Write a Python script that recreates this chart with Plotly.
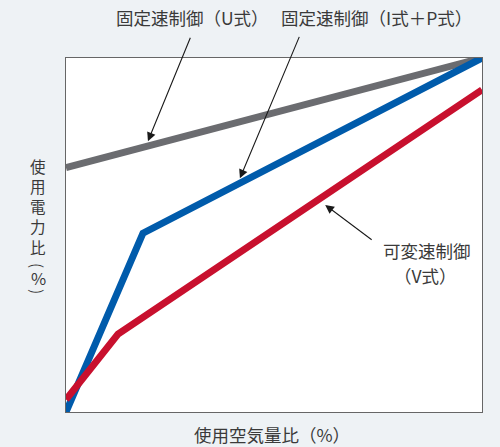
import plotly.graph_objects as go

# Data (x: 使用空気量比 %, y: 使用電力比 %)
u_x = [0, 100]
u_y = [69, 100]
ip_x = [0, 18.5, 100]
ip_y = [0, 50.5, 100]
v_x = [0, 12.5, 100]
v_y = [3.5, 22, 91]

series_names = ["固定速制御（U式）", "固定速制御（I式＋P式）", "可変速制御（V式）"]
colors = ["#6b6c70", "#005bab", "#c8102e"]

FONT = "Noto Sans CJK JP"
TXT = "#3a3a3a"

# plot area in pixels
L, R, T, B = 66, 482, 58, 412
W, H = 500, 447


def px(x):
    return (x - L) / (R - L)


def py(y):
    return (B - y) / (B - T)


fig = go.Figure()
for xs, ys, name, c in [(u_x, u_y, series_names[0], colors[0]),
                        (ip_x, ip_y, series_names[1], colors[1]),
                        (v_x, v_y, series_names[2], colors[2])]:
    fig.add_trace(go.Scatter(x=xs, y=ys, mode="lines", name=name,
                             line=dict(color=c, width=7), showlegend=False,
                             hoverinfo="skip"))

fig.update_xaxes(range=[0, 100], showgrid=False, zeroline=False, showticklabels=False,
                 ticks="", showline=True, mirror=True, linecolor="#666", linewidth=1)
fig.update_yaxes(range=[0, 100], showgrid=False, zeroline=False, showticklabels=False,
                 ticks="", showline=True, mirror=True, linecolor="#666", linewidth=1)

arrow = dict(showarrow=True, arrowhead=2, arrowsize=1.6, arrowwidth=1.1,
             arrowcolor="#1a1a1a", text="", xref="x", yref="y")
annotations = [
    dict(x=19.7, y=76.5, ax=43, ay=-105, **arrow),
    dict(x=41.8, y=66.0, ax=60, ay=-143, **arrow),
    dict(x=62.3, y=58.5, ax=48, ay=36, **arrow),
]
label = dict(showarrow=False, xref="paper", yref="paper", xanchor="center",
             yanchor="middle", font=dict(family=FONT, size=17.5, color=TXT))
annotations += [
    dict(text="固定速制御（U式）", x=px(192), y=py(17), **label),
    dict(text="固定速制御（I式＋P式）", x=px(376), y=py(17), **label),
    dict(text="可変速制御", x=px(427), y=py(250), **label),
    dict(text="（V式）", x=px(425), y=py(275), **label),
    dict(text="使用空気量比（%）", x=px(272), y=py(435), **label),
]
# vertical y-axis title
small = dict(label, font=dict(family=FONT, size=15.5, color=TXT))
annotations.append(dict(text="使<br>用<br>電<br>力<br>比", x=px(38),
                        y=py(207), **small))
annotations.append(dict(text="(", x=px(38), y=py(265), textangle=90, **small))
annotations.append(dict(text="%", x=px(38), y=py(278),
                        **dict(label, font=dict(family=FONT, size=16.5, color=TXT))))
annotations.append(dict(text=")", x=px(38), y=py(291), textangle=90, **small))

fig.update_layout(
    width=W, height=H, autosize=False,
    margin=dict(l=L, r=W - R, t=T, b=H - B),
    paper_bgcolor="#eef2f5", plot_bgcolor="#ffffff",
    annotations=annotations,
    font=dict(family=FONT, color=TXT),
)

fig.write_html("out.html", config={"displayModeBar": False},
               post_script="document.body.style.margin='0';")
